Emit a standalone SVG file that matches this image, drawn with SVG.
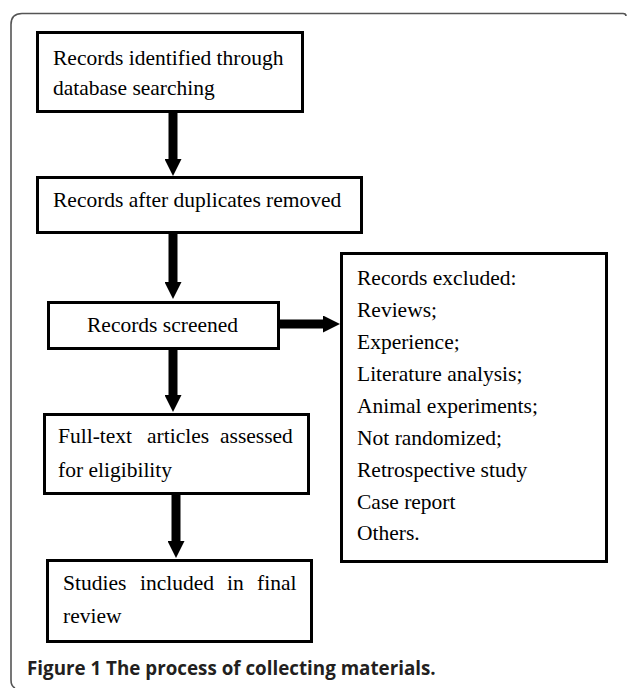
<svg xmlns="http://www.w3.org/2000/svg" width="628" height="688" viewBox="0 0 628 688">
<style>
.box{fill:#fff;stroke:#000;stroke-width:3}
.t{font-family:"Liberation Serif","Times New Roman",serif;font-size:21.5px;fill:#000}
.arr{stroke:#000;stroke-width:9;fill:none}
.cap{font-family:"Open Sans","Noto Sans","Liberation Sans",sans-serif;font-weight:bold;font-size:18.8px;fill:#231f20}
</style>
<defs>
<marker id="ah" markerUnits="userSpaceOnUse" markerWidth="17" markerHeight="17" refX="0" refY="8.5" orient="auto" viewBox="0 0 17 17">
<path d="M0,0 L17,8.5 L0,17 z" fill="#000"/>
</marker>
</defs>
<rect width="628" height="688" fill="#fff"/>
<path d="M626,16 Q626,13.5 623,13.5 L22,13.5 Q11,13.5 11,24.5 L11,680 Q11,686 15,688" fill="none" stroke="#555" stroke-width="1.6"/>
<g id="connectors">
<line class="arr" x1="173" y1="113" x2="173" y2="159" marker-end="url(#ah)"/>
<line class="arr" x1="173" y1="233" x2="173" y2="282" marker-end="url(#ah)"/>
<line class="arr" x1="173" y1="350" x2="173" y2="395" marker-end="url(#ah)"/>
<line class="arr" x1="176" y1="495" x2="176" y2="541" marker-end="url(#ah)"/>
<line class="arr" x1="280" y1="324" x2="323" y2="324" marker-end="url(#ah)"/>
</g>
<g id="n1">
<rect class="box" x="37.5" y="32.5" width="265" height="79"/>
<text class="t" x="53" y="65">Records identified through</text>
<text class="t" x="53" y="95">database searching</text>
</g>
<g id="n2">
<rect class="box" x="37.5" y="177.5" width="324" height="55"/>
<text class="t" x="53" y="207">Records after duplicates removed</text>
</g>
<g id="n3">
<rect class="box" x="48.5" y="302.5" width="230" height="46"/>
<text class="t" x="87" y="332">Records screened</text>
</g>
<g id="n4">
<rect class="box" x="44.5" y="414.5" width="264" height="79"/>
<text class="t" y="443"><tspan x="58">Full-text</tspan><tspan x="147">articles</tspan><tspan x="220">assessed</tspan></text>
<text class="t" x="58" y="477">for eligibility</text>
</g>
<g id="n5">
<rect class="box" x="47.5" y="560.5" width="264" height="81"/>
<text class="t" y="590"><tspan x="63">Studies</tspan><tspan x="140">included</tspan><tspan x="227">in</tspan><tspan x="257">final</tspan></text>
<text class="t" x="63" y="623">review</text>
</g>
<g id="n6">
<rect class="box" x="341.5" y="253.5" width="265" height="308"/>
<text class="t" x="357" y="285">Records excluded:</text>
<text class="t" x="357" y="317">Reviews;</text>
<text class="t" x="357" y="349">Experience;</text>
<text class="t" x="357" y="381">Literature analysis;</text>
<text class="t" x="357" y="413">Animal experiments;</text>
<text class="t" x="357" y="445">Not randomized;</text>
<text class="t" x="357" y="477">Retrospective study</text>
<text class="t" x="357" y="509">Case report</text>
<text class="t" x="357" y="540">Others.</text>
</g>
<text class="cap" x="27" y="675">Figure 1 The process of collecting materials.</text>
</svg>
